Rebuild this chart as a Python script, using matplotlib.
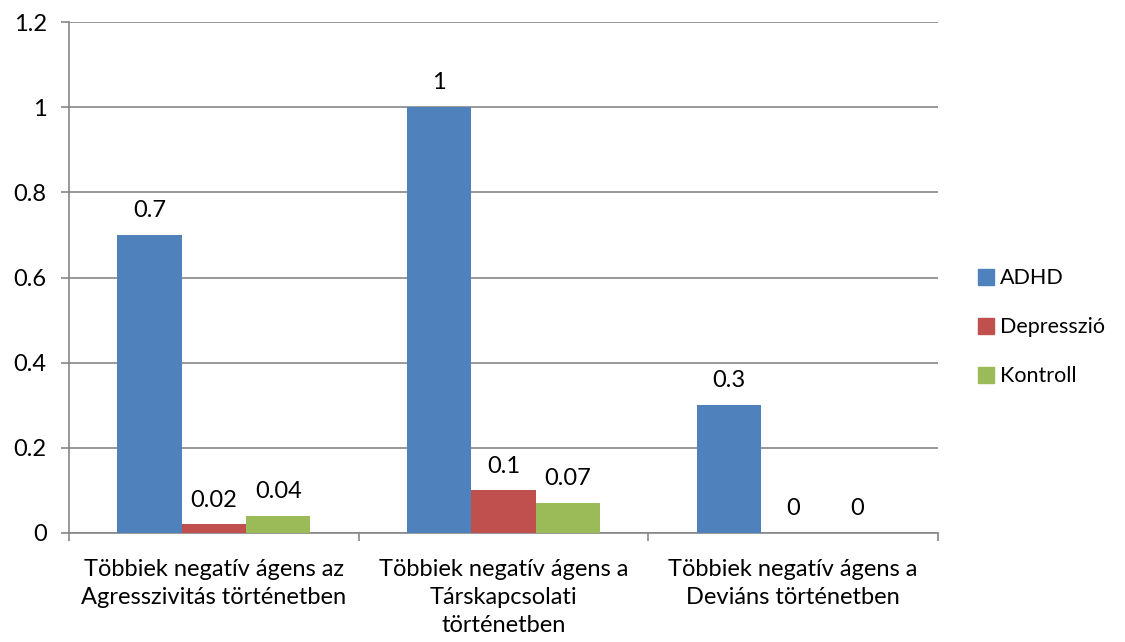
import numpy as np
import matplotlib.pyplot as plt
from matplotlib.patches import Patch

plt.rcParams['font.family'] = ['Lato', 'DejaVu Sans']

categories = ['Többiek negatív ágens az\nAgresszivitás történetben',
              'Többiek negatív ágens a\nTárskapcsolati\ntörténetben',
              'Többiek negatív ágens a\nDeviáns történetben']
series = ['ADHD', 'Depresszió', 'Kontroll']
adhd = [0.7, 1, 0.3]
depresszio = [0.02, 0.1, 0]
kontroll = [0.04, 0.07, 0]
colors = ['#4F81BD', '#C0504D', '#9BBB59']

fs = 17

fig = plt.figure(figsize=(11.25, 6.42), dpi=100)
ax = fig.add_axes([0.0613, 0.1698, 0.7725, 0.7959])

x = np.arange(len(categories))
w = 1 / 4.5
for i, (vals, col) in enumerate(zip([adhd, depresszio, kontroll], colors)):
    pos = x + (i - 1) * w
    ax.bar(pos, vals, width=w, color=col, zorder=3)
    for p, v in zip(pos, vals):
        ax.annotate('%g' % v, (p, v), xytext=(0, 10), textcoords='offset points',
                    ha='center', va='bottom', fontsize=fs)

ax.set_xlim(-0.5, 2.5)
ax.set_ylim(0, 1.2)
ax.set_yticks(np.arange(0, 1.21, 0.2))
ax.set_yticklabels(['0', '0.2', '0.4', '0.6', '0.8', '1', '1.2'], fontsize=fs)
ax.yaxis.grid(True, color='#868686', linewidth=1.2, zorder=0)
ax.tick_params(axis='y', length=6, color='#868686', width=1.2, pad=10)

ax.set_xticks(x)
ax.set_xticklabels(categories, fontsize=fs, linespacing=1.4)
ax.tick_params(axis='x', length=0, pad=19)
ax.set_xticks([-0.5, 0.5, 1.5, 2.5], minor=True)
ax.tick_params(axis='x', which='minor', length=6, color='#868686', width=1.2)

for s in ['top', 'right']:
    ax.spines[s].set_visible(False)
for s in ['left', 'bottom']:
    ax.spines[s].set_color('#868686')
    ax.spines[s].set_linewidth(1.2)

handles = [Patch(color=c, label=s) for c, s in zip(colors, series)]
fig.legend(handles=handles, loc='center left', bbox_to_anchor=(0.869, 0.49),
           frameon=False, fontsize=15.5, handlelength=0.75, handleheight=0.75,
           handletextpad=0.3, labelspacing=1.35, borderpad=0, borderaxespad=0)

fig.savefig('out.png', dpi=100)
